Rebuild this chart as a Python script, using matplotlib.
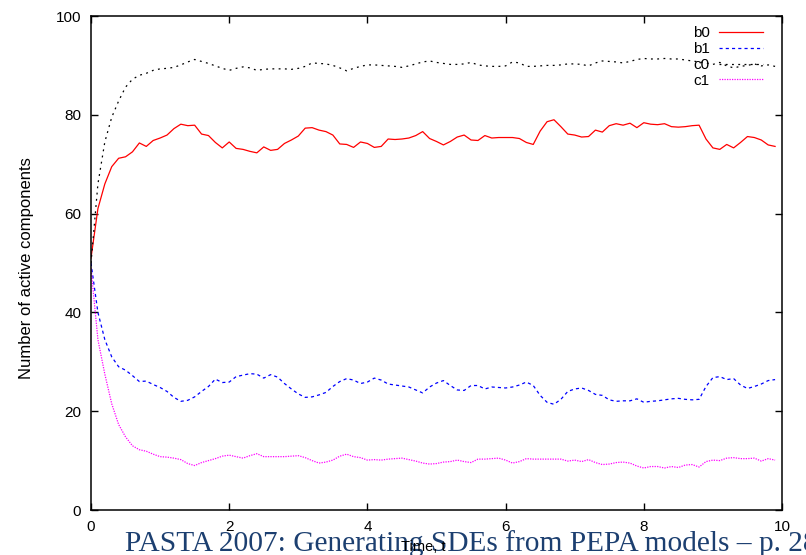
import numpy as np
import matplotlib
matplotlib.use('Agg')
import matplotlib.pyplot as plt

plt.rcParams['font.family'] = ['Liberation Sans', 'DejaVu Sans']

# time grid of the simulation output (step 0.1)
time = np.arange(100) / 10.0

b0 = [51, 61, 66, 69.5, 71.2, 71.5, 72.5, 74.3, 73.6, 74.8,
      75.3, 75.9, 77.2, 78.1, 77.8, 77.9, 76.1, 75.8, 74.4, 73.3,
      74.5, 73.2, 73.0, 72.6, 72.3, 73.5, 72.8, 73.0, 74.2, 74.9,
      75.7, 77.3, 77.4, 76.9, 76.6, 75.9, 74.1, 74.0, 73.4, 74.5,
      74.2, 73.4, 73.6, 75.1, 75.0, 75.1, 75.3, 75.8, 76.6, 75.2,
      74.6, 73.9, 74.6, 75.5, 75.9, 74.9, 74.8, 75.8, 75.3, 75.4,
      75.4, 75.4, 75.2, 74.4, 74.0, 76.7, 78.6, 79.0, 77.6, 76.1,
      75.9, 75.5, 75.6, 76.9, 76.5, 77.8, 78.2, 77.9, 78.3, 77.4,
      78.4, 78.1, 78.0, 78.2, 77.6, 77.5, 77.6, 77.8, 77.9, 75.1,
      73.3, 73.0, 74.0, 73.3, 74.4, 75.6, 75.4, 74.9, 73.9, 73.6]

b1 = [50, 40, 34.5, 31, 29, 28.3, 27.2, 26.0, 26.1, 25.4,
      24.8, 24.0, 22.8, 22.0, 22.2, 22.9, 24.0, 25.0, 26.5, 25.8,
      25.9, 27.0, 27.3, 27.6, 27.5, 26.7, 27.4, 26.9, 25.6, 24.5,
      23.5, 22.8, 22.9, 23.3, 23.8, 25.0, 26.0, 26.6, 26.3, 25.6,
      25.9, 26.7, 26.3, 25.5, 25.3, 25.1, 24.9, 24.3, 23.7, 24.9,
      25.7, 26.2, 25.2, 24.3, 24.2, 25.2, 25.2, 24.5, 24.9, 24.8,
      24.7, 24.9, 25.3, 25.9, 25.2, 23.2, 21.8, 21.4, 22.4, 24.0,
      24.5, 24.7, 24.2, 23.4, 23.2, 22.3, 22.0, 22.1, 22.1, 22.5,
      21.8, 22.0, 22.1, 22.3, 22.5, 22.6, 22.4, 22.3, 22.4, 25.0,
      26.8, 27.0, 26.4, 26.6, 25.3, 24.6, 25.0, 25.5, 26.2, 26.4]

c0 = [50, 66, 74.5, 79.5, 82.8, 85.6, 87.2, 88.0, 88.4, 89.0,
      89.3, 89.4, 89.6, 90.1, 90.7, 91.2, 90.8, 90.4, 89.9, 89.4,
      89.0, 89.4, 89.7, 89.5, 89.0, 89.2, 89.3, 89.3, 89.3, 89.2,
      89.4, 89.8, 90.5, 90.4, 90.3, 90.0, 89.5, 88.9, 89.4, 89.8,
      90.1, 90.1, 90.0, 89.9, 89.8, 89.6, 89.9, 90.3, 90.7, 90.9,
      90.6, 90.4, 90.2, 90.2, 90.3, 90.6, 90.1, 89.9, 89.8, 89.8,
      89.9, 90.7, 90.5, 89.8, 89.8, 89.9, 90.0, 90.0, 90.1, 90.3,
      90.3, 90.2, 89.9, 90.5, 90.9, 90.8, 90.7, 90.5, 90.8, 91.2,
      91.4, 91.3, 91.3, 91.4, 91.3, 91.3, 91.1, 90.9, 90.7, 90.5,
      90.2, 90.6, 89.9, 89.5, 89.8, 90.0, 90.3, 89.9, 90.1, 89.8]

c1 = [49, 34.5, 27.5, 21.5, 17.3, 14.8, 13.0, 12.2, 11.9, 11.3,
      10.8, 10.7, 10.5, 10.2, 9.4, 9.0, 9.6, 10.0, 10.4, 10.9,
      11.1, 10.8, 10.5, 11.0, 11.4, 10.8, 10.8, 10.8, 10.8, 10.9,
      11.0, 10.6, 10.0, 9.5, 9.7, 10.1, 10.9, 11.3, 10.8, 10.6,
      10.1, 10.2, 10.1, 10.3, 10.4, 10.5, 10.2, 9.9, 9.5, 9.3,
      9.4, 9.7, 9.8, 10.1, 9.8, 9.6, 10.3, 10.3, 10.4, 10.5,
      10.1, 9.5, 9.8, 10.4, 10.3, 10.3, 10.3, 10.3, 10.3, 9.9,
      10.1, 9.8, 10.2, 9.6, 9.2, 9.3, 9.6, 9.7, 9.5, 8.9,
      8.5, 8.8, 8.8, 8.5, 8.8, 8.6, 9.1, 9.2, 8.7, 9.8,
      10.1, 10.0, 10.5, 10.6, 10.4, 10.4, 10.5, 9.9, 10.4, 10.1]

fig = plt.figure(figsize=(8.06, 5.55), dpi=100)
ax = fig.add_axes([91 / 806, 1 - 510 / 555, 691 / 806, 494 / 555])

ax.plot(time, b0, color='#ff0000', lw=0.9, label='b0')
ax.plot(time, b1, color='#0000ff', lw=0.9, linestyle=(0, (2.5, 2.5)), label='b1')
ax.plot(time, c0, color='black', lw=0.9, linestyle=(0, (1.5, 3.5)), label='c0')
ax.plot(time, c1, color='#ff00ff', lw=0.9, linestyle=(0, (1, 1)), label='c1')

ax.set_xlim(0, 10)
ax.set_ylim(0, 100)
ax.set_xticks([0, 2, 4, 6, 8, 10])
ax.set_yticks([0, 20, 40, 60, 80, 100])
ax.tick_params(direction='in', length=5, width=1, top=True, right=True,
               labelsize=11, pad=7)
for s in ax.spines.values():
    s.set_linewidth(1.1)

ax.set_ylabel('Number of active components', fontsize=12)
ax.yaxis.set_label_coords(-0.083, 0.49)
ax.set_xlabel('Time, t', fontsize=10.5)
ax.xaxis.set_label_coords((423 - 91) / 691, -0.061)

ax.legend(loc='upper right', bbox_to_anchor=(0.9725, 0.98), frameon=False,
          markerfirst=False, fontsize=11, handlelength=2.9, handletextpad=0.6,
          borderpad=0, labelspacing=0.13, borderaxespad=0)

# slide footer, sits behind the axes labels
fig.text(125 / 806, 1 - 551 / 555, 'PASTA 2007: Generating SDEs from PEPA models \u2013 p. 28',
         family=['Liberation Serif', 'DejaVu Serif'], fontsize=21.2,
         color='#1c3f70', ha='left', va='baseline', zorder=-1)

fig.savefig('out.png', dpi=100)
